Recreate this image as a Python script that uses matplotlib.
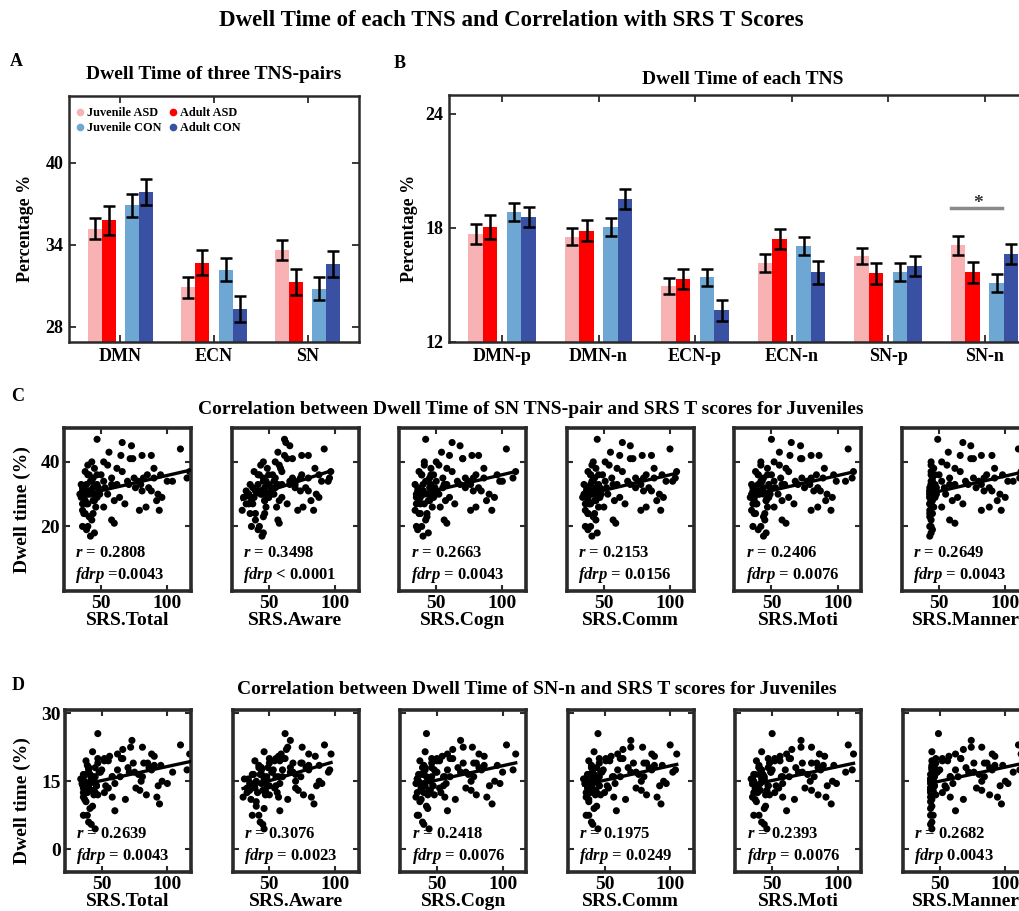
import numpy as np
import matplotlib
matplotlib.use('Agg')
import matplotlib.pyplot as plt
from matplotlib.lines import Line2D

plt.rcParams['font.family'] = ['Liberation Serif', 'DejaVu Serif']
plt.rcParams['font.weight'] = 'bold'
plt.rcParams['mathtext.fontset'] = 'custom'
plt.rcParams['mathtext.it'] = 'Liberation Serif:italic:bold'
plt.rcParams['mathtext.rm'] = 'Liberation Serif:bold'
plt.rcParams['mathtext.bf'] = 'Liberation Serif:bold'

# ---------------- data ----------------
series_names = ['Juvenile ASD', 'Adult ASD', 'Juvenile CON', 'Adult CON']
series_colors = ['#F8B2B3', '#FF0000', '#6EA7D3', '#3A51A3']

groups_A = ['DMN', 'ECN', 'SN']
A_juv_asd = [35.2, 30.9, 33.6]
A_adu_asd = [35.8, 32.7, 31.3]
A_juv_con = [36.9, 32.2, 30.8]
A_adu_con = [37.9, 29.3, 32.6]
A_err_juv_asd = [0.77, 0.77, 0.73]
A_err_adu_asd = [1.05, 0.91, 0.94]
A_err_juv_con = [0.84, 0.83, 0.85]
A_err_adu_con = [0.94, 0.95, 0.95]

groups_B = ['DMN-p', 'DMN-n', 'ECN-p', 'ECN-n', 'SN-p', 'SN-n']
B_juv_asd = [17.68, 17.54, 14.96, 16.16, 16.53, 17.10]
B_adu_asd = [18.07, 17.86, 15.33, 17.42, 15.61, 15.67]
B_juv_con = [18.83, 18.07, 15.40, 17.05, 15.67, 15.10]
B_adu_con = [18.56, 19.53, 13.67, 15.67, 16.00, 16.63]
B_err_juv_asd = [0.51, 0.44, 0.42, 0.47, 0.42, 0.50]
B_err_adu_asd = [0.63, 0.57, 0.53, 0.53, 0.56, 0.55]
B_err_juv_con = [0.46, 0.47, 0.46, 0.49, 0.48, 0.46]
B_err_adu_con = [0.53, 0.53, 0.54, 0.61, 0.53, 0.54]

# dwell time of SN TNS-pair (panel C) and SN-n (panel D) per juvenile subject
dwell_sn_pair = [30, 28, 33, 36, 25, 31, 42, 29, 34, 27,
                 22, 35, 31, 19, 38, 30, 26, 33, 41, 29,
                 32, 24, 36, 30, 28, 47, 34, 20, 31, 37,
                 26, 33, 29, 39, 35, 23, 30, 44, 32, 28,
                 34, 31, 18, 36, 42, 27, 33, 30, 25, 38,
                 29, 35, 32, 21, 40, 34, 30, 46, 28, 36,
                 33, 26, 31, 37, 24, 43, 32, 35, 29, 39,
                 17, 34, 30, 27, 41, 33, 36, 22, 31, 35,
                 28, 38, 32, 25, 34, 45, 30, 36, 33, 27,
                 40, 31, 24, 35, 29, 37, 32, 20, 34, 42]
dwell_sn_n = [14.5, 13.0, 17.5, 19.0, 11.5, 16.5, 21.0, 12.0, 18.0, 14.0,
              9.5, 16.0, 13.5, 7.5, 20.5, 16.0, 12.5, 15.0, 22.5, 15.5,
              17.0, 11.0, 18.5, 13.0, 14.5, 25.5, 16.5, 6.0, 15.0, 20.0,
              12.0, 18.5, 14.0, 19.5, 17.0, 9.0, 15.5, 23.0, 14.0, 16.5,
              15.5, 17.5, 4.5, 17.5, 20.0, 12.5, 16.0, 18.0, 13.0, 18.0,
              13.5, 19.0, 15.0, 8.5, 21.5, 14.5, 17.0, 22.0, 11.5, 16.5,
              17.0, 14.0, 12.5, 21.0, 10.5, 20.5, 18.0, 15.5, 16.0, 17.5,
              5.5, 19.5, 14.0, 11.0, 19.0, 14.5, 20.0, 11.5, 16.0, 18.5,
              12.5, 21.0, 16.5, 10.0, 17.0, 24.0, 13.5, 18.0, 19.0, 13.0,
              20.0, 14.5, 12.0, 17.5, 15.0, 19.5, 13.5, 7.5, 16.0, 22.5]

srs_labels = ['SRS.Total', 'SRS.Aware', 'SRS.Cogn', 'SRS.Comm', 'SRS.Moti', 'SRS.Manner']
srs_total = [38, 44, 62, 85, 36, 41, 88, 47, 70, 40,
             43, 58, 36, 39, 90, 45, 52, 80, 72, 35,
             48, 37, 95, 42, 60, 47, 78, 40, 37, 66,
             84, 39, 46, 55, 75, 41, 34, 110, 53, 38,
             42, 88, 45, 50, 65, 36, 58, 40, 79, 45,
             37, 82, 44, 60, 43, 100, 49, 66, 92, 41,
             71, 46, 39, 117, 38, 56, 86, 44, 64, 40,
             42, 52, 93, 68, 74, 35, 47, 58, 81, 90,
             45, 62, 36, 94, 104, 73, 55, 40, 47, 39,
             52, 41, 44, 115, 96, 38, 76, 36, 43, 81]
srs_aware = [35, 47, 60, 75, 30, 44, 80, 50, 66, 38,
             40, 55, 33, 42, 85, 48, 56, 70, 64, 31,
             52, 36, 88, 45, 58, 62, 70, 43, 40, 60,
             76, 42, 50, 58, 68, 46, 34, 92, 55, 37,
             48, 80, 46, 53, 62, 33, 57, 44, 72, 49,
             39, 74, 47, 58, 46, 90, 52, 63, 82, 43,
             66, 48, 41, 97, 40, 57, 78, 46, 60, 44,
             45, 54, 86, 64, 68, 36, 50, 57, 74, 80,
             47, 59, 38, 84, 95, 66, 54, 42, 50, 35,
             55, 44, 47, 96, 88, 39, 70, 37, 46, 75]
srs_cogn = [37, 45, 58, 80, 34, 40, 82, 48, 66, 41,
            42, 55, 38, 36, 86, 46, 53, 76, 70, 35,
            49, 38, 96, 44, 57, 42, 74, 39, 36, 62,
            80, 40, 47, 52, 72, 43, 35, 103, 55, 37,
            43, 84, 44, 48, 60, 35, 56, 41, 76, 46,
            38, 78, 45, 58, 41, 98, 50, 62, 88, 39,
            68, 47, 40, 110, 37, 54, 82, 45, 60, 41,
            40, 50, 90, 64, 70, 34, 46, 56, 78, 86,
            44, 58, 36, 92, 100, 68, 52, 39, 46, 38,
            50, 40, 43, 108, 94, 37, 72, 35, 42, 77]
srs_comm = [39, 43, 60, 82, 36, 42, 86, 47, 68, 40,
            44, 56, 37, 38, 88, 46, 50, 78, 70, 34,
            47, 38, 94, 43, 58, 45, 76, 40, 37, 64,
            82, 40, 46, 54, 74, 42, 35, 100, 52, 38,
            41, 86, 45, 49, 62, 36, 57, 41, 78, 44,
            38, 80, 44, 59, 42, 97, 48, 64, 90, 40,
            70, 46, 39, 105, 38, 55, 84, 43, 62, 41,
            41, 51, 92, 66, 72, 35, 46, 57, 80, 88,
            44, 60, 37, 93, 102, 70, 53, 40, 46, 39,
            51, 41, 43, 104, 95, 38, 74, 36, 42, 79]
srs_moti = [36, 46, 60, 84, 35, 43, 86, 48, 68, 39,
            45, 57, 38, 40, 90, 44, 52, 79, 72, 34,
            49, 37, 97, 41, 58, 50, 77, 42, 36, 63,
            85, 40, 47, 56, 73, 44, 35, 108, 53, 37,
            42, 87, 46, 50, 64, 36, 58, 40, 80, 47,
            37, 80, 44, 61, 42, 99, 49, 65, 91, 40,
            70, 47, 39, 112, 38, 56, 85, 44, 63, 42,
            44, 52, 92, 67, 73, 35, 47, 58, 82, 89,
            46, 61, 36, 95, 106, 72, 55, 40, 48, 38,
            52, 41, 45, 111, 96, 38, 75, 36, 43, 80]
srs_manner = [43, 44, 62, 86, 43, 45, 90, 47, 70, 44,
              44, 58, 43, 45, 92, 46, 52, 82, 74, 43,
              48, 44, 98, 45, 60, 49, 80, 44, 43, 66,
              88, 44, 46, 56, 76, 43, 43, 110, 54, 44,
              45, 90, 44, 50, 66, 43, 58, 44, 82, 46,
              43, 84, 45, 62, 44, 102, 48, 68, 94, 45,
              72, 46, 44, 112, 43, 57, 88, 45, 64, 44,
              43, 52, 96, 68, 76, 44, 47, 58, 84, 92,
              45, 62, 43, 97, 106, 74, 55, 44, 47, 43,
              52, 44, 45, 111, 100, 44, 78, 43, 44, 82]

C_r = ['0.2808', '0.3498', '0.2663', '0.2153', '0.2406', '0.2649']
C_fdrp = ['=0.0043', '< 0.0001', '= 0.0043', '= 0.0156', '= 0.0076', '= 0.0043']
D_r = ['0.2639', '0.3076', '0.2418', '0.1975', '0.2393', '0.2682']
D_fdrp = ['= 0.0043', '= 0.0023', '= 0.0076', '= 0.0249', '= 0.0076', '0.0043']

# ---------------- figure ----------------
W, H = 1019, 911
fig = plt.figure(figsize=(W / 100, H / 100), dpi=100)


def rect(left, top, right, bottom):
    return [left / W, 1 - bottom / H, (right - left) / W, (bottom - top) / H]


def fx(px):
    return px / W


def fy(py):
    return 1 - py / H


SPINE = '#2a2a2a'
offsets = [-0.275, -0.125, 0.125, 0.275]
bar_w = 0.15


def bar_panel(ax, groups, means, errs, ylim, yticks):
    x = np.arange(1, len(groups) + 1)
    for k in range(4):
        ax.bar(x + offsets[k], means[k], width=bar_w, color=series_colors[k],
               edgecolor='none', zorder=2)
        ax.errorbar(x + offsets[k], means[k], yerr=errs[k], fmt='none',
                    ecolor='black', elinewidth=1.8, capsize=4.5, capthick=1.8,
                    zorder=3)
    ax.set_xlim(0.45, len(groups) + 0.55)
    ax.set_ylim(*ylim)
    ax.set_yticks(yticks)
    ax.set_xticks(x)
    ax.set_xticklabels(groups)
    ax.tick_params(direction='in', top=True, right=True, length=5, width=1.3,
                   labelsize=13, pad=4, colors=SPINE, labelcolor='black')
    for s in ax.spines.values():
        s.set_linewidth(1.8)
        s.set_color(SPINE)


# Panel A
axA = fig.add_axes(rect(69, 96, 359, 342))
bar_panel(axA, groups_A, [A_juv_asd, A_adu_asd, A_juv_con, A_adu_con],
          [A_err_juv_asd, A_err_adu_asd, A_err_juv_con, A_err_adu_con],
          (26.9, 44.9), [28, 34, 40])
axA.set_title('Dwell Time of three TNS-pairs', fontsize=14, fontweight='bold', pad=12)
fig.text(fx(25), fy(228), 'Percentage %', rotation=90, ha='center', va='center',
         fontsize=13, fontweight='bold')
handles = [Line2D([], [], marker='o', linestyle='none', markersize=5.5,
                  markerfacecolor=series_colors[k], markeredgecolor='none')
           for k in [0, 2, 1, 3]]
labels = [series_names[k] for k in [0, 2, 1, 3]]
axA.legend(handles, labels, ncol=2, loc='upper left', frameon=False,
           fontsize=8.8, handletextpad=0.1, columnspacing=0.4,
           labelspacing=0.25, borderaxespad=0.0, handlelength=1.0,
           bbox_to_anchor=(0.0, 0.975))

# Panel B
axB = fig.add_axes(rect(449, 95, 449 + 6.1 * 96.5, 342))
bar_panel(axB, groups_B, [B_juv_asd, B_adu_asd, B_juv_con, B_adu_con],
          [B_err_juv_asd, B_err_adu_asd, B_err_juv_con, B_err_adu_con],
          (12, 25), [12, 18, 24])
fig.text(fx(743), fy(79), 'Dwell Time of each TNS', ha='center', va='center',
         fontsize=14, fontweight='bold')
fig.text(fx(410), fy(228), 'Percentage %', rotation=90, ha='center', va='center',
         fontsize=13, fontweight='bold')
axB.plot([5.65, 6.18], [19.05, 19.05], color='#8a8a8a', lw=2.5, zorder=4)
axB.text(5.93, 18.85, '*', ha='center', va='bottom', fontsize=14,
         color='#333333')

# panel letters and titles
fig.text(0.5015, fy(20), 'Dwell Time of each TNS and Correlation with SRS T Scores',
         ha='center', va='center', fontsize=16.5, fontweight='bold')
fig.text(fx(16), fy(61), 'A', ha='center', va='center', fontsize=13, fontweight='bold')
fig.text(fx(400), fy(64), 'B', ha='center', va='center', fontsize=13, fontweight='bold')
fig.text(fx(18), fy(397), 'C', ha='center', va='center', fontsize=13, fontweight='bold')
fig.text(fx(18), fy(686), 'D', ha='center', va='center', fontsize=13, fontweight='bold')
fig.text(fx(531), fy(410), 'Correlation between Dwell Time of SN TNS-pair and SRS T scores for Juveniles',
         ha='center', va='center', fontsize=14, fontweight='bold')
fig.text(fx(537), fy(690), 'Correlation between Dwell Time of SN-n and SRS T scores for Juveniles',
         ha='center', va='center', fontsize=14, fontweight='bold')

# Scatter panels
srs_all = [srs_total, srs_aware, srs_cogn, srs_comm, srs_moti, srs_manner]


def scatter_panel(ax, xs, ys, ylim, yticks, rtxt, ftxt, first, xlabel):
    xs = np.asarray(xs, float)
    ys = np.asarray(ys, float)
    ax.scatter(xs, ys, s=26, color='black', edgecolors='none', zorder=2)
    slope, icpt = np.polyfit(xs, ys, 1)
    xl = np.array([xs.min(), xs.max()])
    ax.plot(xl, slope * xl + icpt, color='black', lw=2.4, zorder=3)
    ax.set_xlim(22, 118)
    ax.set_ylim(*ylim)
    ax.set_xticks([50, 100])
    ax.set_yticks(yticks)
    ax.tick_params(direction='in', top=True, right=True, length=4, width=1.5,
                   labelsize=14, pad=3, labelleft=first, colors=SPINE,
                   labelcolor='black')
    for s in ax.spines.values():
        s.set_linewidth(2.6)
        s.set_color(SPINE)
    ax.set_xlabel(xlabel, fontsize=14, fontweight='bold', labelpad=0)
    ax.text(0.09, 0.235, '$r$ = ' + rtxt, transform=ax.transAxes, fontsize=12,
            fontweight='bold', va='center', ha='left')
    ax.text(0.09, 0.10, '$fdrp$ ' + ftxt, transform=ax.transAxes, fontsize=12,
            fontweight='bold', va='center', ha='left')


for i in range(6):
    left = 64 + i * 167.6
    axC = fig.add_axes(rect(left, 428, left + 127, 591))
    scatter_panel(axC, srs_all[i], dwell_sn_pair, (0, 50.5), [20, 40],
                  C_r[i], C_fdrp[i], i == 0, srs_labels[i])
    axD = fig.add_axes(rect(left + 1, 710, left + 127, 872))
    scatter_panel(axD, srs_all[i], dwell_sn_n, (-5, 30.7), [0, 15, 30],
                  D_r[i], D_fdrp[i], i == 0, srs_labels[i])

fig.text(fx(22), fy(510), 'Dwell time (%)', rotation=90, ha='center', va='center',
         fontsize=14, fontweight='bold')
fig.text(fx(22), fy(801), 'Dwell time (%)', rotation=90, ha='center', va='center',
         fontsize=14, fontweight='bold')

fig.savefig('out.png', dpi=100)
